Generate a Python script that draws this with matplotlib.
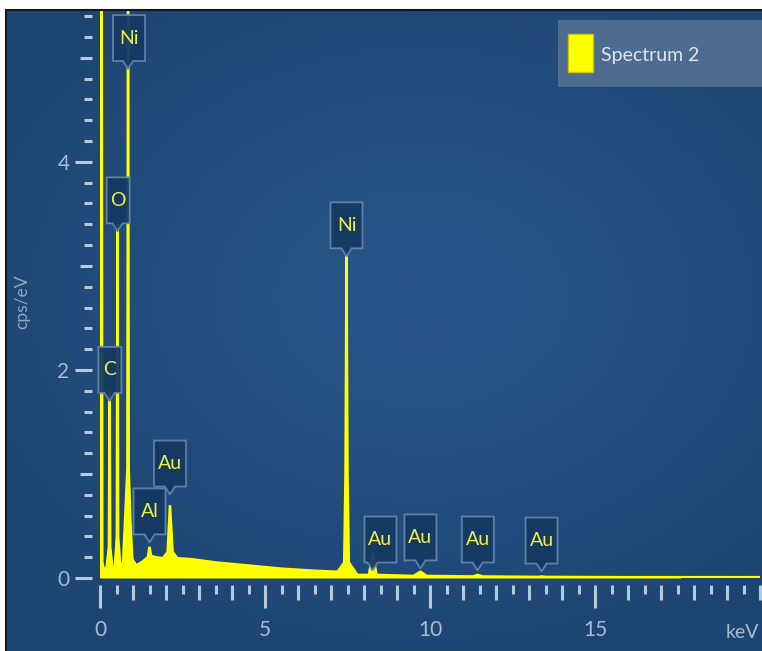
"""
EDS spectrum (Spectrum 2) — recreated with matplotlib.
Piecewise-linear spectrum read off the reference picture.
"""

import numpy as np
import matplotlib
matplotlib.use("Agg")
import matplotlib.pyplot as plt
import matplotlib.transforms as mtransforms
from matplotlib.patches import Polygon, Rectangle
from matplotlib.ticker import MultipleLocator, FixedLocator

# ---------------------------------------------------------------------------
# DATA
# ---------------------------------------------------------------------------

energy_kev = [
    0.00, 0.03, 0.05, 0.07, 0.12, 0.20, 0.27, 0.29, 0.31, 0.38,
    0.45, 0.51, 0.53, 0.55, 0.62, 0.70, 0.78, 0.83, 0.85, 0.87,
    0.92, 0.98, 1.10, 1.30, 1.45, 1.50, 1.55, 1.70, 1.90, 2.05,
    2.12, 2.20, 2.35, 2.80, 3.50, 4.50, 5.50, 6.50, 7.20, 7.40,
    7.44, 7.47, 7.50, 7.54, 7.80, 8.15, 8.26, 8.38, 9.50, 9.71,
    9.90, 11.30, 11.44, 11.60, 13.30, 13.38, 13.50, 17.60,
]
cps_per_ev = [
    0.00, 0.05, 6.00, 0.15, 0.08, 0.10, 0.30, 1.80, 0.30, 0.08,
    0.10, 0.40, 3.40, 0.40, 0.10, 0.15, 0.70, 1.05, 6.00, 1.05,
    0.55, 0.18, 0.12, 0.16, 0.20, 0.30, 0.21, 0.20, 0.19, 0.25,
    0.70, 0.25, 0.19, 0.18, 0.15, 0.12, 0.09, 0.07, 0.06, 0.15,
    1.00, 3.10, 1.00, 0.15, 0.03, 0.03, 0.24, 0.03, 0.02, 0.06,
    0.02, 0.015, 0.03, 0.015, 0.01, 0.015, 0.01, 0.005,
]

# element labels: text, line energy (keV), label centre (keV, cps/eV)
label_text = ["Ni", "O", "C", "Ni", "Au", "Al", "Au", "Au", "Au", "Au"]
label_line_kev = [0.85, 0.53, 0.29, 7.47, 2.12, 1.50, 8.26, 9.71, 11.44, 13.38]
label_box_kev = [0.88, 0.55, 0.30, 7.47, 2.12, 1.50, 8.50, 9.71, 11.45, 13.38]
label_box_cps = [5.19, 3.63, 2.00, 3.39, 1.10, 0.64, 0.37, 0.39, 0.37, 0.36]

x_major = [0, 5, 10, 15]
y_major = [0, 2, 4]

# ---------------------------------------------------------------------------
# STYLE
# ---------------------------------------------------------------------------

W, H, DPI = 762, 651, 100
YELLOW = "#ffff00"
TICK_COL = "#b7c8da"
LABEL_COL = "#a9bcd2"
FONT = "Lato"

plt.rcParams["font.family"] = [FONT, "DejaVu Sans"]

fig = plt.figure(figsize=(W / DPI, H / DPI), dpi=DPI, facecolor="white")

# --- background panel with soft radial gradient ---
bg = fig.add_axes([6 / W, 0, 1 - 6 / W, 1 - 10 / H])
gy, gx = np.mgrid[0:1:300j, 0:1:300j]
r = np.sqrt(((gx - 0.55) / 0.9) ** 2 + ((gy - 0.55) / 0.8) ** 2)
c_in = np.array([0x29, 0x56, 0x8a]) / 255
c_out = np.array([0x1d, 0x45, 0x72]) / 255
t = np.clip(r / 0.75, 0, 1)[..., None]
bg.imshow(c_in * (1 - t) + c_out * t, extent=[0, 1, 0, 1], aspect="auto",
          origin="lower")
bg.set_xlim(0, 1)
bg.set_ylim(0, 1)
bg.set_xticks([])
bg.set_yticks([])
for side in ["right", "bottom"]:
    bg.spines[side].set_visible(False)
for side in ["top", "left"]:
    bg.spines[side].set_color("#111822")
    bg.spines[side].set_linewidth(1.5)

# --- data axes ---
x0, x1 = 100, 760
y_zero, y_top = 578, 11
ymax = 5.45
ax = fig.add_axes([x0 / W, (H - y_zero) / H, (x1 - x0) / W, (y_zero - y_top) / H])
ax.patch.set_alpha(0)
ax.set_xlim(0, 20)
ax.set_ylim(0, ymax)

ax.fill_between(energy_kev, cps_per_ev, 0, color=YELLOW, lw=0, clip_on=True)
ax.plot(energy_kev, cps_per_ev, color=YELLOW, lw=1.8, solid_joinstyle="miter")
ax.axhline(0, color=YELLOW, lw=3)

for s in ax.spines.values():
    s.set_visible(False)
ax.spines["left"].set_position(("outward", 6))
ax.spines["bottom"].set_position(("outward", 5))

# x ticks: majors every 1 keV (labelled every 5), minors every 0.5
ax.xaxis.set_major_locator(MultipleLocator(1))
ax.xaxis.set_minor_locator(MultipleLocator(0.5))
ax.tick_params(axis="x", which="major", length=16.5, width=2.2, color=TICK_COL,
               labelcolor=LABEL_COL, labelsize=15, pad=9)
ax.tick_params(axis="x", which="minor", length=6.5, width=2.2, color=TICK_COL)
ax.set_xticklabels([str(int(v)) if v in x_major else "" for v in ax.get_xticks()])
for v, tk in zip(ax.get_xticks(), ax.xaxis.get_major_ticks()):
    if v not in x_major:
        tk.tick1line.set_markersize(11)

# y ticks: majors every 1 (labelled 0, 2, 4), minors every 0.2
ax.yaxis.set_major_locator(FixedLocator([0, 1, 2, 3, 4, 5]))
ax.yaxis.set_minor_locator(FixedLocator(np.arange(0.2, 5.45, 0.2)))
ax.tick_params(axis="y", which="major", length=12, width=2.2, color=TICK_COL,
               labelcolor=LABEL_COL, labelsize=15, pad=4)
ax.tick_params(axis="y", which="minor", length=6, width=2.2, color=TICK_COL)
ax.set_yticklabels([str(int(v)) if v in y_major else "" for v in ax.get_yticks()])
for v, tk in zip(ax.get_yticks(), ax.yaxis.get_major_ticks()):
    if v not in y_major:
        tk.tick1line.set_markersize(9)

fig.text(22 / W, 1 - 302 / H, "cps/eV", rotation=90, ha="center", va="center",
         color="#8ea6c0", fontsize=12.5)
fig.text(759 / W, 1 - 633 / H, "keV", ha="right", va="center",
         color=LABEL_COL, fontsize=14)

# --- element label boxes with a pointer notch ---
def draw_label(txt, line_e, box_e, box_y):
    trans = fig.dpi_scale_trans + mtransforms.ScaledTranslation(box_e, box_y, ax.transData)
    w = 14 + 9 * len(txt)
    h = 46
    # pointer x offset (pixels) of the line energy relative to box centre
    px_per_kev = (x1 - x0) / 20
    dx = (line_e - box_e) * px_per_kev
    verts = [(-w / 2, h / 2), (w / 2, h / 2), (w / 2, -h / 2),
             (dx + 5, -h / 2), (dx, -h / 2 - 8), (dx - 5, -h / 2),
             (-w / 2, -h / 2)]
    verts = [(vx / DPI, vy / DPI) for vx, vy in verts]
    ax.add_patch(Polygon(verts, closed=True, transform=trans, facecolor="#143a63",
                         edgecolor="#6384aa", lw=1.3, alpha=0.95, zorder=5,
                         clip_on=False))
    ax.text(box_e, box_y, txt, ha="center", va="center", color="#eef04a",
            fontsize=14, zorder=6)


for txt, le, be, by in zip(label_text, label_line_kev, label_box_kev, label_box_cps):
    draw_label(txt, le, be, by)

# --- legend ---
leg_ax = fig.add_axes([558 / W, 1 - 87 / H, (W - 558) / W, 67 / H])
leg_ax.set_xlim(558, W)
leg_ax.set_ylim(87, 20)
leg_ax.set_facecolor("#4d6c90")
leg_ax.set_xticks([])
leg_ax.set_yticks([])
for s in leg_ax.spines.values():
    s.set_visible(False)
leg_ax.add_patch(Rectangle((568, 34), 25, 38, facecolor=YELLOW, edgecolor="#c8c800", lw=1))
leg_ax.text(601, 55, "Spectrum 2", ha="left", va="center", color="#dde5ee", fontsize=14)

fig.savefig("out.png", dpi=DPI)
